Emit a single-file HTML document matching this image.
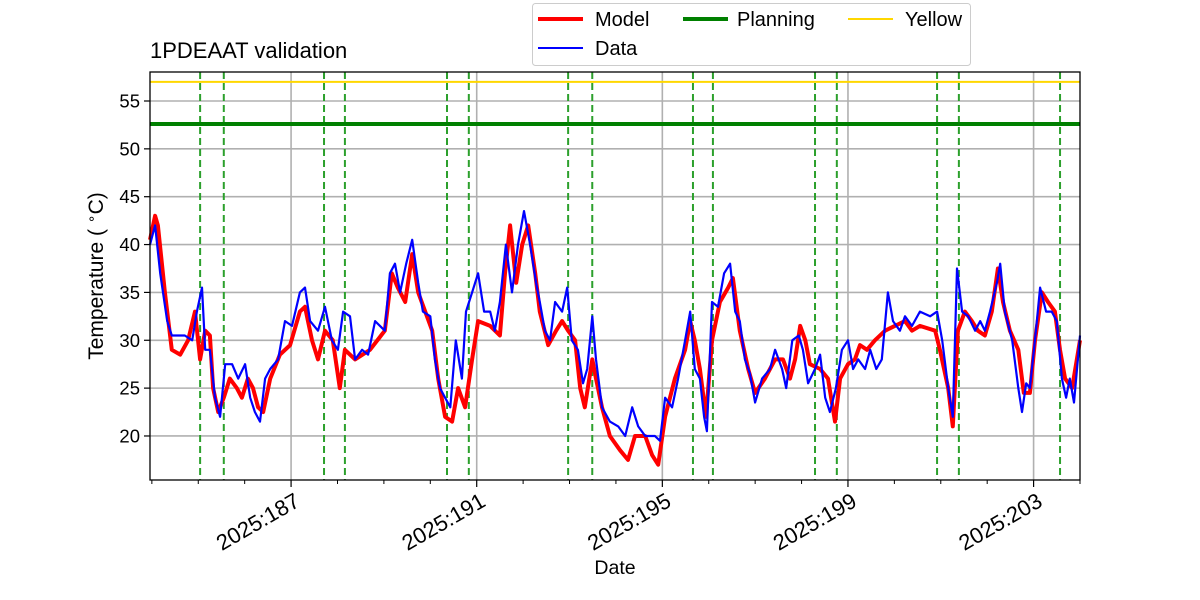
<!DOCTYPE html>
<html><head><meta charset="utf-8"><style>
html,body{margin:0;padding:0;background:#fff;}
svg{display:block;font-family:"Liberation Sans","DejaVu Sans",sans-serif;}
</style></head><body>
<svg id="chart" width="1200" height="600" viewBox="0 0 1200 600">
<g id="grid"></g>
<g id="plot"></g>
<rect x="150" y="72" width="930" height="408" fill="none" stroke="#000" stroke-width="1.3"/>
<g id="axes"></g>
<text x="150" y="58" font-size="22">1PDEAAT validation</text>
<text x="615" y="574" font-size="19.5" text-anchor="middle">Date</text>
<text transform="translate(103,276) rotate(-90)" font-size="21" text-anchor="middle">Temperature ( <tspan font-size="14" dy="-7">∘</tspan><tspan dy="7">C)</tspan></text>
<g>
<rect x="532.5" y="3.5" width="438" height="62" rx="3" fill="#fff" fill-opacity="0.8" stroke="#ccc"/>
<g><line x1="538" y1="19" x2="583" y2="19" stroke="red" stroke-width="4"/><text x="595" y="26" font-size="20">Model</text></g>
<g><line x1="538" y1="48" x2="583" y2="48" stroke="blue" stroke-width="2"/><text x="595" y="55" font-size="20">Data</text></g>
<g><line x1="683" y1="19" x2="728" y2="19" stroke="green" stroke-width="4"/><text x="737" y="26" font-size="20">Planning</text></g>
<g><line x1="848" y1="19" x2="893" y2="19" stroke="gold" stroke-width="2"/><text x="905" y="26" font-size="20">Yellow</text></g>
</g>
</svg>
<script>
const yTicks=[20,25,30,35,40,45,50,55];
const xMajorDays=[187,191,195,199,203];
const xMajorLabels=["2025:187","2025:191","2025:195","2025:199","2025:203"];
const planningLimit=52.6;
const yellowLimit=57.0;
const eventDays=[185.04,185.55,187.71,188.16,190.36,190.83,192.97,193.49,195.66,196.09,198.29,198.76,200.92,201.39,203.57];
const modelDays=[183.96,184.07,184.13,184.28,184.43,184.61,184.78,184.93,185.04,185.15,185.25,185.32,185.43,185.55,185.68,185.83,185.94,186.07,186.18,186.29,186.40,186.55,186.76,186.98,187.19,187.30,187.45,187.58,187.73,187.90,188.05,188.16,188.38,188.70,189.02,189.17,189.30,189.46,189.61,189.74,189.89,190.04,190.17,190.32,190.47,190.60,190.75,190.90,191.03,191.29,191.50,191.61,191.72,191.85,191.98,192.11,192.26,192.36,192.54,192.71,192.84,192.97,193.12,193.23,193.33,193.49,193.57,193.70,193.87,194.09,194.26,194.41,194.63,194.78,194.91,195.06,195.27,195.49,195.60,195.70,195.81,195.94,196.07,196.24,196.42,196.52,196.67,196.85,197.00,197.21,197.43,197.60,197.75,197.86,197.97,198.08,198.18,198.40,198.57,198.72,198.83,199.00,199.15,199.26,199.41,199.58,199.80,200.01,200.23,200.38,200.55,200.88,200.98,201.16,201.26,201.37,201.52,201.67,201.80,201.95,202.10,202.23,202.34,202.49,202.67,202.79,202.92,203.03,203.18,203.31,203.46,203.57,203.68,203.83,204.00];
const modelTemps=[40.5,43,42,35,29,28.5,30,33,28,31,30.5,25,22.5,24,26,25,24,26,25,23,22.5,26,28.5,29.5,33,33.5,30,28,31,30,25,29,28,29,31,37,35.5,34,39,35,33,31,26,22,21.5,25,23,28,32,31.5,30.5,37,42,36,40,42,37,33,29.5,31,32,31,30,25,23,28,26,23,20,18.5,17.5,20,20,18,17,22,26,29,32,30,27,22,30,34,35.5,36.5,31,27,24.5,26,28,28,26,28,31.5,30,27.5,27,26,21.5,26,27.5,28,29.5,29,30,31,31.5,32,31,31.5,31,29,25,21,31,33,32,31,30.5,33,37.5,34,31,29,24.5,24.5,30,35,34,33,29,26,25,30];
const dataDays=[183.96,184.07,184.18,184.33,184.43,184.71,184.87,184.97,185.08,185.15,185.25,185.36,185.47,185.58,185.73,185.86,186.01,186.12,186.22,186.33,186.44,186.55,186.72,186.87,187.02,187.19,187.30,187.41,187.58,187.73,187.88,188.01,188.12,188.27,188.38,188.53,188.66,188.81,189.02,189.13,189.24,189.35,189.48,189.61,189.74,189.84,190.00,190.10,190.21,190.32,190.43,190.55,190.68,190.77,190.90,191.03,191.16,191.29,191.39,191.50,191.63,191.76,191.89,192.02,192.15,192.28,192.36,192.47,192.58,192.69,192.84,192.95,193.05,193.18,193.29,193.38,193.49,193.57,193.70,193.87,194.05,194.20,194.35,194.48,194.63,194.74,194.84,194.95,195.06,195.21,195.34,195.49,195.60,195.70,195.81,195.90,195.96,196.07,196.20,196.33,196.46,196.57,196.67,196.78,196.89,197.00,197.15,197.32,197.43,197.58,197.67,197.80,197.94,198.03,198.14,198.29,198.40,198.51,198.61,198.74,198.87,199.00,199.11,199.22,199.37,199.48,199.61,199.73,199.86,199.97,200.12,200.23,200.38,200.55,200.77,200.92,201.03,201.16,201.26,201.35,201.46,201.59,201.74,201.85,201.95,202.06,202.21,202.28,202.38,202.54,202.67,202.75,202.84,202.92,203.05,203.14,203.27,203.39,203.50,203.61,203.70,203.78,203.87,204.00];
const dataTemps=[40,42,37,32,30.5,30.5,30,33,35.5,29,29,24,22,27.5,27.5,26,27.5,24,22.5,21.5,26,27,28,32,31.5,35,35.5,32,31,33.5,30,29,33,32.5,28,29,28.5,32,31,37,38,35,38,40.5,36,33,32.5,28,25,24,23,30,26,33,35,37,33,33,31,34,40,35,40,43.5,40,36,34,31,30,34,33,35.5,30,29,25.5,27,32.5,28,23,21.5,21,20,23,21,20,20,20,19.5,24,23,26,30,33,27,26,22,20.5,34,33.5,37,38,33,32,28,26.5,23.5,26,27,29,27,25,30,30.5,29,25.5,27,28.5,24,22.5,25,29,30,27,28,27,29,27,28,35,32,31,32.5,31.5,33,32.5,33,30,25,22,37.5,33,32.5,31,32,31,33,36,38,33,30,25,22.5,25.5,25,31,35.5,33,33,32,26,24,26,23.5,30.5];

const NS="http://www.w3.org/2000/svg";
const X0=150,X1=1080,Y0=72,Y1=480;
const D0=183.96,D1=204.0,V0=15.4,V1=58.03;
function xs(d){return X0+(d-D0)/(D1-D0)*(X1-X0);}
function ys(v){return Y1-(v-V0)/(V1-V0)*(Y1-Y0);}
function mk(tag,attrs,parent){const e=document.createElementNS(NS,tag);for(const k in attrs)e.setAttribute(k,attrs[k]);parent.appendChild(e);return e;}
const grid=document.getElementById('grid'),plot=document.getElementById('plot'),axes=document.getElementById('axes');

yTicks.forEach(v=>{
  const g=mk('line',{x1:X0,x2:X1,y1:ys(v),y2:ys(v),stroke:'#b0b0b0','stroke-width':1.6},grid);
  
  
  const t=mk('line',{x1:X0-6,x2:X0,y1:ys(v),y2:ys(v),stroke:'#000','stroke-width':1.2},axes);
  
  
  const l=mk('text',{x:X0-10,y:ys(v)+6.5,'font-size':18.5,'text-anchor':'end'},axes);
  l.textContent=v;
  
  
});
xMajorDays.forEach((d,i)=>{
  const g=mk('line',{x1:xs(d),x2:xs(d),y1:Y0,y2:Y1,stroke:'#b0b0b0','stroke-width':1.6},grid);
  
  
  const t=mk('line',{x1:xs(d),x2:xs(d),y1:Y1,y2:Y1+7,stroke:'#000','stroke-width':1.2},axes);
  
  
  const l=mk('text',{transform:`translate(${xs(d)+2},${Y1+11}) rotate(-30)`,'font-size':22,'text-anchor':'end',dy:'0.75em'},axes);
  l.textContent=xMajorLabels[i];
  
  
});
for(let d=Math.ceil(D0);d<=D1;d++){
  if(xMajorDays.includes(d))continue;
  const t=mk('line',{x1:xs(d),x2:xs(d),y1:Y1,y2:Y1+4,stroke:'#000','stroke-width':1},axes);
  
  
}
eventDays.forEach(d=>{
  const e=mk('line',{x1:xs(d),x2:xs(d),y1:Y0,y2:Y1,stroke:'#2ca02c','stroke-width':2,'stroke-dasharray':'7,4'},plot);
  
  
});
const py=mk('line',{x1:X0,x2:X1,y1:ys(yellowLimit),y2:ys(yellowLimit),stroke:'gold','stroke-width':2},plot);


const pp=mk('line',{x1:X0,x2:X1,y1:ys(planningLimit),y2:ys(planningLimit),stroke:'green','stroke-width':4},plot);


function pts(ds,vs){return ds.map((d,i)=>xs(d).toFixed(1)+','+ys(vs[i]).toFixed(1)).join(' ');}
const m=mk('polyline',{points:pts(modelDays,modelTemps),fill:'none',stroke:'red','stroke-width':4,'stroke-linejoin':'round'},plot);


const dl=mk('polyline',{points:pts(dataDays,dataTemps),fill:'none',stroke:'blue','stroke-width':2.2,'stroke-linejoin':'round'},plot);


</script>
</body></html>
